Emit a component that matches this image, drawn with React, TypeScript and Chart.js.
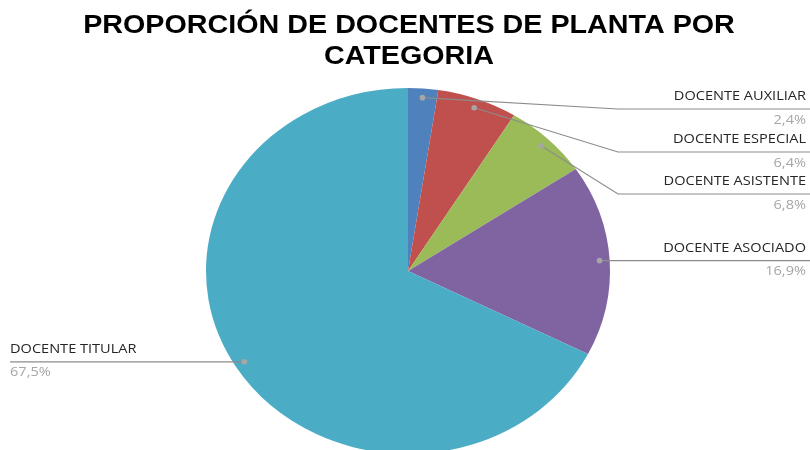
import React, { useEffect, useRef } from "react";
import { Chart, registerables } from "chart.js";

Chart.register(...registerables);

const categories = ["DOCENTE AUXILIAR", "DOCENTE ESPECIAL", "DOCENTE ASISTENTE", "DOCENTE ASOCIADO", "DOCENTE TITULAR"];
const values = [2.4, 6.4, 6.8, 16.9, 67.5];
const valueLabels = ["2,4%", "6,4%", "6,8%", "16,9%", "67,5%"];
const colors = ["#4F81BD", "#C0504D", "#9BBB59", "#8064A2", "#4BACC6"];
const titleLines = ["PROPORCIÓN DE DOCENTES DE PLANTA POR", "CATEGORIA"];

const SX = 202 / 183;
const TSX = 1.12;

const ellipsePlugin = {
  id: "ellipse",
  beforeDatasetsDraw(chart: any) {
    const ctx = chart.ctx;
    const arc = chart.getDatasetMeta(0).data[0];
    ctx.save();
    ctx.translate(arc.x, 0);
    ctx.scale(SX, 1);
    ctx.translate(-arc.x, 0);
  },
  afterDatasetsDraw(chart: any) {
    chart.ctx.restore();
  },
};

// label layout: y of the horizontal leader segment for right-side labels (null = use dot y)
const rightLineY = [109, 152, 194, null];

function stretchedText(ctx: CanvasRenderingContext2D, text: string, x: number, y: number, sx: number) {
  ctx.save();
  ctx.translate(x, y);
  ctx.scale(sx, 1);
  ctx.fillText(text, 0, 0);
  ctx.restore();
}

const labelPlugin = {
  id: "labels",
  afterDraw(chart: any) {
    const ctx = chart.ctx;
    const W = chart.width;
    // title
    ctx.save();
    ctx.fillStyle = "#000000";
    ctx.font = "bold 26px 'Liberation Sans', Arial, sans-serif";
    ctx.textAlign = "center";
    ctx.textBaseline = "middle";
    stretchedText(ctx, titleLines[0], 409, 26, SX);
    stretchedText(ctx, titleLines[1], 409, 57, SX);
    ctx.restore();

    const meta = chart.getDatasetMeta(0);
    meta.data.forEach((arc: any, i: number) => {
      const mid = (arc.startAngle + arc.endAngle) / 2;
      const r = arc.outerRadius * 0.95;
      const px = arc.x + SX * r * Math.cos(mid);
      const py = arc.y + r * Math.sin(mid);
      ctx.save();
      ctx.strokeStyle = "#8C8C8C";
      ctx.lineWidth = 1.2;
      ctx.beginPath();
      let ly: number;
      let textX: number;
      let align: CanvasTextAlign;
      if (i < 4) {
        const yy = rightLineY[i];
        ly = yy == null ? py : yy;
        ctx.moveTo(px, py);
        if (yy != null) ctx.lineTo(618, ly);
        ctx.lineTo(W, ly);
        textX = 806;
        align = "right";
      } else {
        ly = py;
        ctx.moveTo(px, py);
        ctx.lineTo(10, ly);
        textX = 10;
        align = "left";
      }
      ctx.stroke();
      ctx.fillStyle = "#A6A6A6";
      ctx.beginPath();
      ctx.arc(px, py, 2.8, 0, Math.PI * 2);
      ctx.fill();
      ctx.font = "13px 'Open Sans', sans-serif";
      ctx.textAlign = align;
      ctx.textBaseline = "alphabetic";
      ctx.fillStyle = "#262626";
      stretchedText(ctx, categories[i], textX, ly - 9, TSX);
      ctx.fillStyle = "#A6A6A6";
      stretchedText(ctx, valueLabels[i], textX, ly + 14.5, TSX);
      ctx.restore();
    });
  },
};

export default function App() {
  const ref = useRef<HTMLCanvasElement>(null);
  useEffect(() => {
    document.body.style.margin = "0";
    const chart = new Chart(ref.current!, {
      type: "pie",
      data: {
        labels: categories,
        datasets: [
          {
            data: values,
            backgroundColor: colors,
            borderWidth: 0,
          },
        ],
      },
      options: {
        animation: false,
        responsive: false,
        devicePixelRatio: 1,
        layout: { padding: { top: 88, bottom: 6, left: 225, right: 219 } },
        plugins: {
          legend: { display: false },
          title: { display: false },
          tooltip: { enabled: false },
        },
      },
      plugins: [ellipsePlugin, labelPlugin],
    });
    return () => chart.destroy();
  }, []);
  return (
    <div style={{ width: 810, height: 450, overflow: "hidden", background: "#fff" }}>
      <canvas ref={ref} width={810} height={460} style={{ display: "block" }} />
    </div>
  );
}
